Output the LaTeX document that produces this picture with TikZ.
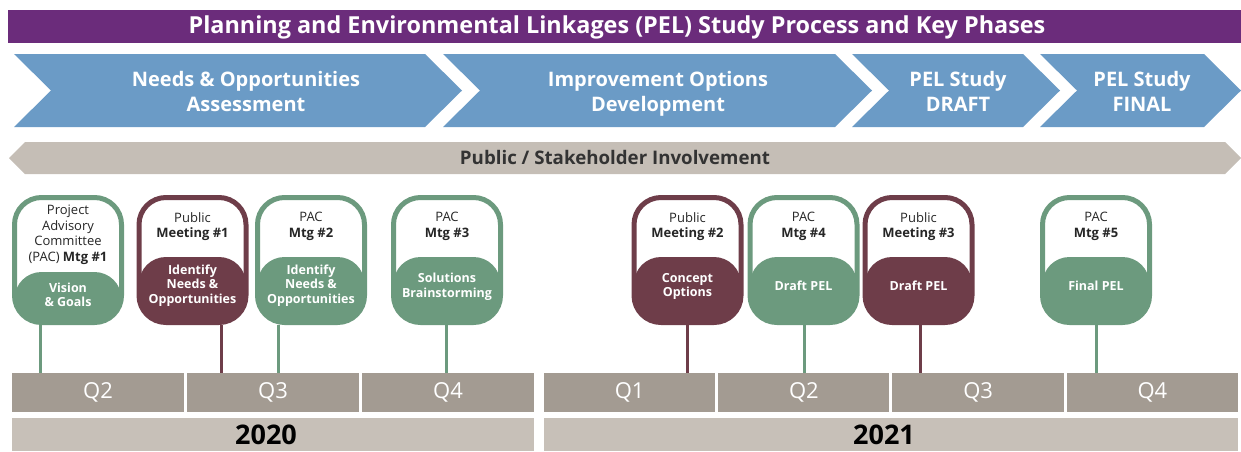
\documentclass[tikz,border=0pt]{standalone}
\usepackage{fontspec}
\setmainfont{Open Sans}
\usetikzlibrary{positioning}

\definecolor{pelpurple}{HTML}{6B2C7B}
\definecolor{pelblue}{HTML}{6B9BC6}
\definecolor{pelgreen}{HTML}{6C9A7E}
\definecolor{pelmaroon}{HTML}{6E3D49}
\definecolor{pelband}{HTML}{C5BEB6}
\definecolor{pelquarter}{HTML}{A39B92}
\definecolor{pelyear}{HTML}{C7C0B8}

\begin{document}
\begin{tikzpicture}[x=1pt, y=-1pt,
    phase/.style={text=white, font=\fontsize{20}{25}\selectfont\bfseries, align=center},
    card/.style={draw=#1, fill=white, line width=5pt, rounded corners=27pt,
      minimum width=107pt, minimum height=125pt, inner sep=0pt},
    lower/.style 2 args={path picture={\fill[#1] ([yshift=#2]path picture bounding box.south west)
      rectangle (path picture bounding box.south east);}},
    uptxt/.style={font=\fontsize{13}{15.5}\selectfont, align=center, text=black!85},
    lowtxt/.style={font=\fontsize{12.5}{14.5}\selectfont\bfseries, align=center, text=white},
    stem/.style={draw=#1, line width=3pt},
    quarter/.style={fill=pelquarter, text=white, minimum height=39pt, inner sep=0pt,
      font=\fontsize{22}{22}\selectfont},
    yeartxt/.style={inner sep=0pt, font=\fontsize{27}{27}\selectfont\bfseries}
  ]
  \useasboundingbox (0,0) rectangle (1241,451);

  % title
  \fill[pelpurple] (8,10) rectangle (1241,43);
  \node[text=white, font=\fontsize{23.4}{23.4}\selectfont\bfseries] (title) at (617,27)
    {Planning and Environmental Linkages (PEL) Study Process and Key Phases};

  % phases
  \foreach \l/\r in {14/425, 443/835, 852/1023, 1040/1204}
    \fill[pelblue] (\l,54) -- (\r,54) -- (\r+37,90.5) -- (\r,127) -- (\l,127) -- (\l+37,90.5) -- cycle;
  \node[phase] (needs) at (246,91) {Needs \& Opportunities\\Assessment};
  \node[phase] (impr) at (658,93.5) {Improvement Options\\Development};
  \node[phase] (draft) at (958,91) {PEL Study\\DRAFT};
  \node[phase] (final) at (1142,91) {PEL Study\\FINAL};

  % involvement band
  \fill[pelband] (9,158) -- (25,142) -- (1225,142) -- (1241,158) -- (1225,174) -- (25,174) -- cycle;
  \node[font=\fontsize{18.7}{18.7}\selectfont\bfseries, text=black!80] (band) at (615,157)
    {Public / Stakeholder Involvement};

  % timeline
  \foreach \q [count=\i] in {Q2,Q3,Q4}
    \node[quarter, minimum width=172pt] (qa\i) at (98+175*\i-175,392.5) {\q};
  \foreach \q [count=\i] in {Q1,Q2,Q3,Q4}
    \node[quarter, minimum width=171.25pt] (qb\i) at (629.6+174.25*\i-174.25,392.5) {\q};
  \fill[pelyear] (12,418) rectangle (534,451);
  \fill[pelyear] (544,418) rectangle (1238,451);
  \node[yeartxt] (y20) at (266,435) {2020};
  \node[yeartxt] (y21) at (884,435) {2021};

  % meetings
  \node[card=pelgreen, lower={pelgreen}{50.5pt}] (c1) at (68,260) {};
  \node[card=pelmaroon, lower={pelmaroon}{65.5pt}] (c2) at (192.5,260) {};
  \node[card=pelgreen, lower={pelgreen}{65.5pt}] (c3) at (311,260) {};
  \node[card=pelgreen, lower={pelgreen}{65.5pt}] (c4) at (447,260) {};
  \node[card=pelmaroon, lower={pelmaroon}{65.5pt}] (c5) at (687.5,260) {};
  \node[card=pelgreen, lower={pelgreen}{65.5pt}] (c6) at (803.5,260) {};
  \node[card=pelmaroon, lower={pelmaroon}{65.5pt}] (c7) at (918.5,260) {};
  \node[card=pelgreen, lower={pelgreen}{65.5pt}] (c8) at (1096,260) {};

  \node[uptxt] at ([yshift=25pt]c1.center) {Project\\Advisory\\Committee\\(PAC) \textbf{Mtg \#1}};
  \node[uptxt] at ([yshift=33.5pt]c2.center) {Public\\\textbf{Meeting \#1}};
  \node[uptxt] at ([yshift=33.5pt]c3.center) {PAC\\\textbf{Mtg \#2}};
  \node[uptxt] at ([yshift=33.5pt]c4.center) {PAC\\\textbf{Mtg \#3}};
  \node[uptxt] at ([yshift=33.5pt]c5.center) {Public\\\textbf{Meeting \#2}};
  \node[uptxt] at ([yshift=33.5pt]c6.center) {PAC\\\textbf{Mtg \#4}};
  \node[uptxt] at ([yshift=33.5pt]c7.center) {Public\\\textbf{Meeting \#3}};
  \node[uptxt] at ([yshift=33.5pt]c8.center) {PAC\\\textbf{Mtg \#5}};

  \node[lowtxt] at ([yshift=-35pt]c1.center) {Vision\\\& Goals};
  \node[lowtxt] at ([yshift=-25.5pt]c2.center) {Identify\\Needs \&\\Opportunities};
  \node[lowtxt] at ([yshift=-25.5pt]c3.center) {Identify\\Needs \&\\Opportunities};
  \node[lowtxt] at ([yshift=-26.5pt]c4.center) {Solutions\\Brainstorming};
  \node[lowtxt] at ([yshift=-26.5pt]c5.center) {Concept\\Options};
  \node[lowtxt] at ([yshift=-26pt]c6.center) {Draft PEL};
  \node[lowtxt] at ([yshift=-26pt]c7.center) {Draft PEL};
  \node[lowtxt] at ([yshift=-26pt]c8.center) {Final PEL};

  % stems
  \coordinate (s1) at (40,373);
  \coordinate (s2) at (221,373);
  \coordinate (s3) at (278,373);
  \coordinate (s4) at (446,373);
  \coordinate (s5) at (687,373);
  \coordinate (s6) at (804,373);
  \coordinate (s7) at (920,373);
  \coordinate (s8) at (1096,373);
  \draw[stem=pelgreen] (s1 |- c1.south) -- (s1);
  \draw[stem=pelmaroon] (s2 |- c2.south) -- (s2);
  \draw[stem=pelgreen] (s3 |- c3.south) -- (s3);
  \draw[stem=pelgreen] (s4 |- c4.south) -- (s4);
  \draw[stem=pelmaroon] (s5 |- c5.south) -- (s5);
  \draw[stem=pelgreen] (s6 |- c6.south) -- (s6);
  \draw[stem=pelmaroon] (s7 |- c7.south) -- (s7);
  \draw[stem=pelgreen] (s8 |- c8.south) -- (s8);
\end{tikzpicture}
\end{document}
